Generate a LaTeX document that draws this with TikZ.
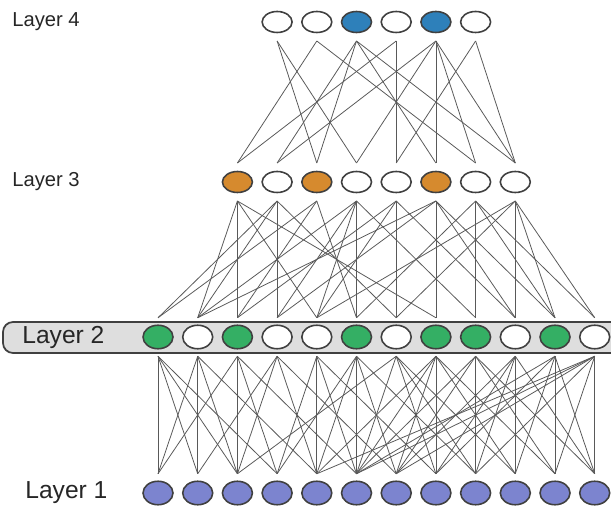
\documentclass[tikz,border=0pt]{standalone}
\usepackage{fontspec}
\setsansfont{Liberation Sans}
\def\unitsep{0.794}
\def\firstx{3.16}
\usetikzlibrary{shapes.geometric}
\definecolor{unitblue}{RGB}{46,128,186}
\definecolor{unitorange}{RGB}{214,138,46}
\definecolor{unitgreen}{RGB}{52,175,100}
\definecolor{unitviolet}{RGB}{124,132,207}

\begin{document}
\begin{tikzpicture}[draw=black!60]
	\tikzstyle{unit}=[ellipse,draw=black!75,line width=0.9pt,fill=white,minimum width=0.6cm,minimum height=0.42cm,inner sep=0pt,outer xsep=0pt,outer ysep=0.17cm]
	\tikzstyle{round unit}=[unit,minimum height=0.47cm,outer ysep=0.15cm]
	\tikzstyle{link}=[draw=black!65,line width=0.45pt]
	\tikzstyle{layer label}=[anchor=west,inner sep=0pt,text=black!85,font=\sffamily\fontsize{11.5}{12}\selectfont]
	\tikzstyle{big label}=[layer label,font=\sffamily\fontsize{14}{15}\selectfont]
	\useasboundingbox (0,0) rectangle (12.22,-10.2);
	
	% The band behind layer 2
	\draw[rounded corners=0.2cm,fill=black!13,draw=black!75,line width=1pt] (0.06,-6.44) rectangle (12.8,-7.06);
	
	% Draw the top layer
	\foreach \name / \col in {1/white,2/white,3/unitblue,4/white,5/unitblue,6/white}
	\node[unit,fill=\col] (L4-\name) at ({\firstx+(\name+2)*\unitsep},-0.44) {};
	
	% Draw layer 3
	\foreach \name / \col in {1/unitorange,2/white,3/unitorange,4/white,5/white,6/unitorange,7/white,8/white}
	\node[unit,fill=\col] (L3-\name) at ({\firstx+(\name+1)*\unitsep},-3.64) {};
	
	% Draw layer 2
	\foreach \name / \col in {1/unitgreen,2/white,3/unitgreen,4/white,5/white,6/unitgreen,7/white,8/unitgreen,9/unitgreen,10/white,11/unitgreen,12/white}
	\node[round unit,fill=\col] (L2-\name) at ({\firstx+(\name-1)*\unitsep},-6.74) {};
	
	% Draw the bottom layer
	\foreach \name in {1,...,12}
	\node[round unit,fill=unitviolet] (L1-\name) at ({\firstx+(\name-1)*\unitsep},-9.86) {};
	
	% Connect layer 4 with layer 3
	\foreach \source / \dest in {1/3,1/4,2/1,2/7,3/2,3/3,3/6,3/8,4/1,4/5,5/2,5/4,5/6,5/7,5/8,6/5,6/8}
	\path[link] (L4-\source.south) edge (L3-\dest.north);
	
	% Connect layer 3 with layer 2
	\foreach \source / \dest in {1/2,1/3,1/5,1/8,2/1,2/2,2/4,2/7,3/1,3/3,3/6,4/2,4/4,4/5,4/6,4/9,5/3,5/5,5/7,5/10,6/2,6/4,6/8,6/10,6/11,7/6,7/9,7/11,7/12,8/5,8/7,8/10,8/11,8/12}
	\path[link] (L3-\source.south) edge (L2-\dest.north);
	
	% Connect layer 2 with layer 1
	\foreach \source / \dest in {1/1,1/2,1/3,1/4,2/1,2/2,2/3,2/5,3/1,3/3,3/4,3/6,4/2,4/3,4/5,4/7,5/4,5/5,5/6,5/8,6/4,6/5,6/6,6/7,6/9,7/3,7/6,7/8,7/9,7/10,8/5,8/6,8/7,8/8,8/10,8/11,9/6,9/7,9/9,9/11,9/12,10/7,10/8,10/9,10/10,10/12,11/6,11/8,11/10,11/11,11/12,12/5,12/6,12/7,12/9,12/11,12/12}
	\path[link] (L2-\source.south) edge (L1-\dest.north);
	
	% Layer names
	\node[layer label] (name4) at (0.24,-0.44) {Layer 4};
	\node[layer label] (name3) at (0.24,-3.64) {Layer 3};
	\node[big label] (name2) at (0.44,-6.74) {Layer 2};
	\node[big label] (name1) at (0.5,-9.86) {Layer 1};
	
\end{tikzpicture}
\end{document}
